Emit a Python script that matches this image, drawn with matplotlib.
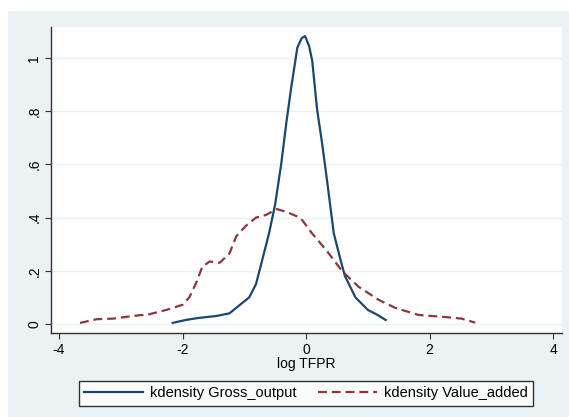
import matplotlib
matplotlib.use("Agg")
import matplotlib.pyplot as plt

plt.rcParams['font.family'] = ['Liberation Sans', 'DejaVu Sans']

# kdensity curves
gross_x = [-2.16, -1.95, -1.73, -1.45, -1.24, -1.08, -0.92, -0.81, -0.71, -0.6,
           -0.5, -0.4, -0.32, -0.24, -0.14, -0.07, -0.016, 0.05, 0.1, 0.18,
           0.26, 0.34, 0.4, 0.45, 0.56, 0.63, 0.8, 1.0, 1.15, 1.29]
gross_y = [0.004, 0.015, 0.023, 0.03, 0.04, 0.07, 0.10, 0.15, 0.24, 0.34,
           0.45, 0.605, 0.755, 0.89, 1.04, 1.075, 1.083, 1.045, 0.99, 0.805,
           0.68, 0.54, 0.43, 0.34, 0.24, 0.18, 0.10, 0.053, 0.035, 0.015]

va_x = [-3.66, -3.39, -3.13, -2.8, -2.53, -2.26, -2.0, -1.89, -1.78, -1.68,
        -1.56, -1.4, -1.24, -1.13, -0.97, -0.81, -0.65, -0.47, -0.3, -0.15,
        -0.06, 0.1, 0.32, 0.58, 0.85, 1.18, 1.45, 1.82, 2.26, 2.52, 2.74]
va_y = [0.004, 0.018, 0.02, 0.03, 0.037, 0.053, 0.072, 0.10, 0.154, 0.215,
        0.235, 0.23, 0.265, 0.33, 0.37, 0.40, 0.41, 0.432, 0.42, 0.405,
        0.39, 0.34, 0.28, 0.2, 0.14, 0.09, 0.06, 0.034, 0.026, 0.02, 0.005]

xticks = [-4, -2, 0, 2, 4]
yticks = [0, 0.2, 0.4, 0.6, 0.8, 1.0]
ytick_labels = ['0', '.2', '.4', '.6', '.8', '1']

W, H = 569, 417
fig = plt.figure(figsize=(W / 100, H / 100), dpi=100)
fig.patch.set_facecolor('white')

# Stata-style outer panel behind the plot region
bg = fig.add_axes([8 / W, 0, 1 - 8 / W, 1 - 11 / H], zorder=-1)
bg.set_facecolor('#eaf2f3')
bg.set_xticks([])
bg.set_yticks([])
for s in bg.spines.values():
    s.set_visible(False)

ax = fig.add_axes([51 / W, 1 - 333 / H, 511 / W, 306 / H])
ax.set_facecolor('white')

ax.plot(gross_x, gross_y, color='#1a476f', lw=1.6, label='kdensity Gross_output')
ax.plot(va_x, va_y, color='#90353b', lw=1.6, dashes=(4, 2.2),
        label='kdensity Value_added')

ax.set_xlim(-4.13, 4.145)
ax.set_ylim(-0.034, 1.117)
ax.set_xticks(xticks)
ax.set_xticklabels([str(t) for t in xticks])
ax.set_yticks(yticks)
ax.set_yticklabels(ytick_labels, rotation=90, va='center')
ax.tick_params(labelsize=10, length=4, width=0.8, color='#333333', pad=3)
ax.grid(axis='y', color='#eaf2f3', lw=1)
ax.set_axisbelow(True)
for s in ['top', 'right']:
    ax.spines[s].set_visible(False)
for s in ['left', 'bottom']:
    ax.spines[s].set_color('#333333')
    ax.spines[s].set_linewidth(1)
ax.set_xlabel('log TFPR', fontsize=10, labelpad=0)

leg = fig.legend(loc='center', bbox_to_anchor=(306 / W, 1 - 393.5 / H), ncol=2,
                 fontsize=10.5, frameon=True, fancybox=False, handlelength=4,
                 columnspacing=1.5, borderpad=0.35, handletextpad=0.5)
leg.get_frame().set_edgecolor('black')
leg.get_frame().set_linewidth(1)

fig.savefig('out.png', dpi=100)
